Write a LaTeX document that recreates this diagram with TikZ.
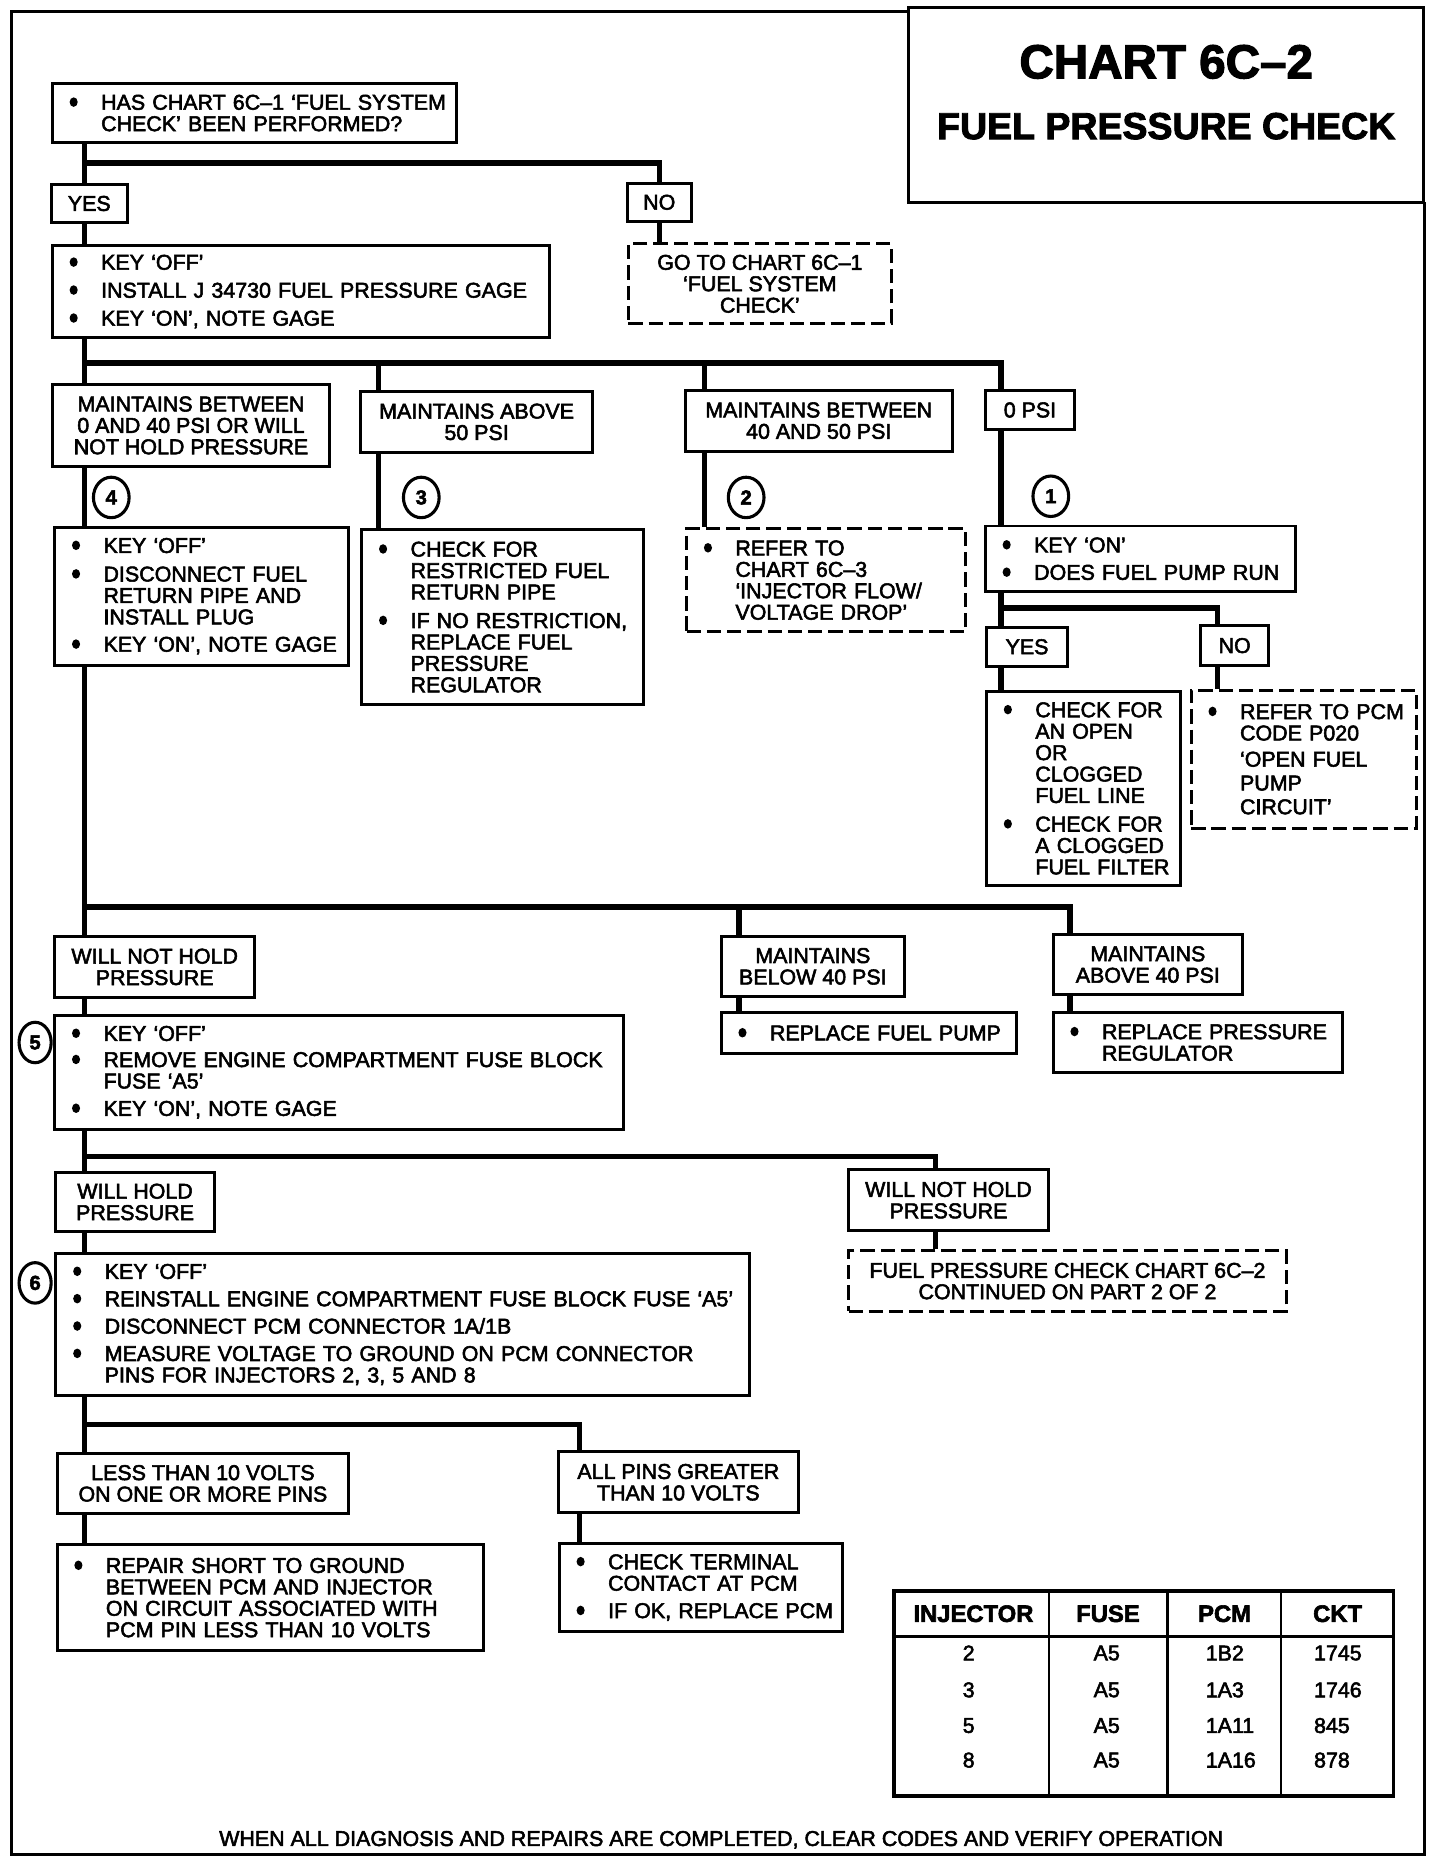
\documentclass[tikz,border=0pt]{standalone}
\usepackage{fontspec}
\setmainfont{Liberation Sans}[FakeBold=2.5]
\usetikzlibrary{backgrounds,shapes.geometric}
\newcommand\bul{\hspace{1.5pt}\tikz[x=1cm,y=1cm,baseline={(0,-6.4pt)}]\fill[black] (0,0) circle[x radius=3.4pt, y radius=4pt];}
\newcommand\bi[1]{\makebox[28pt][l]{\bul}\mbox{#1}}
\newcommand\cl[1]{\hspace*{28pt}\mbox{#1}}
\newcommand\bx[7]{%
 \pgfmathsetmacro\bxw{#5-#3}%
 \pgfmathsetmacro\bxh{#6-#4}%
 \pgfmathsetmacro\bxx{(#3+#5)/2}%
 \pgfmathsetmacro\bxy{(#4+#6)/2}%
 \node[#2, minimum width=\bxw pt, minimum height=\bxh pt] (#1) at (\bxx,\bxy) {#7};}
\newcommand\bl[7]{%
 \pgfmathsetmacro\bxw{#5-#3}%
 \pgfmathsetmacro\bxh{#6-#4}%
 \pgfmathsetmacro\bxt{#5-#3-26}%
 \pgfmathsetmacro\bxx{(#3+#5)/2}%
 \pgfmathsetmacro\bxy{(#4+#6)/2}%
 \node[lst, #2, text width=\bxt pt, minimum width=\bxw pt, minimum height=\bxh pt] (#1) at (\bxx,\bxy) {#7};}
\tikzset{
 base/.style={draw, line width=2.5pt, fill=white, font=\fontsize{18}{18}\selectfont, inner sep=0pt},
 lab/.style={base, align=center},
 lst/.style={base, align=left, inner xsep=13pt},
 dbox/.style={dash pattern=on 12pt off 5pt},
 conn/.style={line width=4.5pt, line join=miter},
 num/.style={ellipse, draw, line width=2.6pt, fill=white, minimum width=30pt, minimum height=34pt, inner sep=0pt, font=\bfseries\fontsize{17}{17}\selectfont},
 frame/.style={line width=2.5pt},
 tbox/.style={draw, line width=2.5pt, inner sep=0pt},
 tblbox/.style={draw, line width=3pt, inner sep=0pt},
 hdr/.style={font=\bfseries\fontsize{20}{20}\selectfont, inner sep=0pt},
 cell/.style={font=\fontsize{18}{18}\selectfont, inner sep=0pt},
}
\begin{document}
\begin{tikzpicture}[x=1pt, y=-1pt]
\useasboundingbox (0,0) rectangle (1210,1568);
% frame and title
\draw[frame] (763,10) -- (10,10) -- (10,1558) -- (1197,1558) -- (1197,170);
\bx{titlebox}{tbox}{763}{6}{1196}{170}{}
\node[font=\bfseries\fontsize{40}{40}\selectfont, inner sep=0pt] (tt1) at (980,52) {CHART 6C--2};
\node[font=\bfseries\fontsize{31.5}{31.5}\selectfont, inner sep=0pt] (tt2) at (980,106) {FUEL PRESSURE CHECK};
% coordinates
\coordinate (X1) at (71,0);
\coordinate (X2) at (318,0);
\coordinate (X3) at (592,0);
\coordinate (X4) at (841,0);
\coordinate (X5) at (1023,0);
\coordinate (X6) at (621,0);
\coordinate (X7) at (899,0);
\coordinate (X8) at (786,0);
\coordinate (X9) at (487,0);
\coordinate (XN) at (554,0);
\coordinate (J1) at (71,137);
\coordinate (J2) at (71,305);
\coordinate (J3) at (841,511);
\coordinate (J4) at (71,762);
\coordinate (J5) at (71,972);
\coordinate (J6) at (71,1197);
% boxes
\bl{b1}{}{44}{70}{384}{120}{\bi{HAS CHART 6C--1 `FUEL SYSTEM}\\\cl{CHECK' BEEN PERFORMED?}}
\bx{yes}{lab}{43}{155}{107}{187}{YES}
\bx{no}{lab}{527}{154}{581}{186}{NO}
\bx{goto}{lab,dbox}{528}{205}{749}{272}{GO TO CHART 6C--1\\`FUEL SYSTEM\\CHECK'}
\bl{b2}{}{44}{206}{462}{284}{\bi{KEY `OFF'}\\[5.5pt]\bi{INSTALL J 34730 FUEL PRESSURE GAGE}\\[5.5pt]\bi{KEY `ON', NOTE GAGE}}
\bx{m1}{lab}{44}{323}{277}{392}{MAINTAINS BETWEEN\\0 AND 40 PSI OR WILL\\NOT HOLD PRESSURE}
\bx{m2}{lab}{303}{329}{498}{380}{MAINTAINS ABOVE\\50 PSI}
\bx{m3}{lab}{576}{328}{800}{379}{MAINTAINS BETWEEN\\40 AND 50 PSI}
\bx{m4}{lab}{828}{328}{903}{361}{0 PSI}
\node[num] (c4) at (93.5,418) {4};
\node[num] (c3) at (354,418) {3};
\node[num] (c2) at (627,418) {2};
\node[num] (c1) at (883,417) {1};
\bl{s4}{}{46}{443}{293}{559}{\bi{KEY `OFF'}\\[6pt]\bi{DISCONNECT FUEL}\\\cl{RETURN PIPE AND}\\\cl{INSTALL PLUG}\\[5pt]\bi{KEY `ON', NOTE GAGE}}
\bl{s3}{}{304}{445}{541}{592}{\bi{CHECK FOR}\\\cl{RESTRICTED FUEL}\\\cl{RETURN PIPE}\\[6pt]\bi{IF NO RESTRICTION,}\\\cl{REPLACE FUEL}\\\cl{PRESSURE}\\\cl{REGULATOR}}
\bl{s2}{dbox}{577}{444}{811}{531}{\bi{REFER TO}\\\cl{CHART 6C--3}\\\cl{`INJECTOR FLOW/}\\\cl{VOLTAGE DROP'}}
\bl{s1}{}{828}{442}{1089}{497}{\bi{KEY `ON'}\\[5pt]\bi{DOES FUEL PUMP RUN}}
\bx{yes2}{lab}{829}{527}{897}{560}{YES}
\bx{no2}{lab}{1009}{526}{1066}{559}{NO}
\bl{s5a}{}{829}{581}{992}{744}{\bi{CHECK FOR}\\\cl{AN OPEN}\\\cl{OR}\\\cl{CLOGGED}\\\cl{FUEL LINE}\\[6pt]\bi{CHECK FOR}\\\cl{A CLOGGED}\\\cl{FUEL FILTER}}
\bl{s5b}{dbox}{1001}{580}{1190}{696}{\bi{REFER TO PCM}\\\cl{CODE P020}\\[4pt]\cl{`OPEN FUEL}\\[2pt]\cl{PUMP}\\[2pt]\cl{CIRCUIT'}}
\bx{r1}{lab}{46}{787}{214}{838}{WILL NOT HOLD\\PRESSURE}
\bx{r2}{lab}{606}{787}{760}{837}{MAINTAINS\\BELOW 40 PSI}
\bx{r3}{lab}{885}{785}{1044}{836}{MAINTAINS\\ABOVE 40 PSI}
\bl{q1}{}{46}{853}{524}{949}{\bi{KEY `OFF'}\\[4pt]\bi{REMOVE ENGINE COMPARTMENT FUSE BLOCK}\\\cl{FUSE `A5'}\\[5pt]\bi{KEY `ON', NOTE GAGE}}
\bl{q2}{}{606}{851}{854}{885}{\bi{REPLACE FUEL PUMP}}
\bl{q3}{}{885}{851}{1128}{901}{\bi{REPLACE PRESSURE}\\\cl{REGULATOR}}
\node[num, minimum width=27pt] (c5) at (29.5,876) {5};
\bx{h1}{lab}{47}{985}{180}{1035}{WILL HOLD\\PRESSURE}
\bx{h2}{lab}{713}{983}{881}{1034}{WILL NOT HOLD\\PRESSURE}
\bx{p2}{lab,dbox}{713}{1051}{1081}{1102}{FUEL PRESSURE CHECK CHART 6C--2\\CONTINUED ON PART 2 OF 2}
\bl{p1}{}{47}{1053}{630}{1173}{\bi{KEY `OFF'}\\[5pt]\bi{REINSTALL ENGINE COMPARTMENT FUSE BLOCK FUSE `A5'}\\[5pt]\bi{DISCONNECT PCM CONNECTOR 1A/1B}\\[5pt]\bi{MEASURE VOLTAGE TO GROUND ON PCM CONNECTOR}\\\cl{PINS FOR INJECTORS 2, 3, 5 AND 8}}
\node[num, minimum width=27pt] (c6) at (29.5,1078) {6};
\bx{v1}{lab}{48}{1221}{293}{1272}{LESS THAN 10 VOLTS\\ON ONE OR MORE PINS}
\bx{v2}{lab}{469}{1220}{671}{1271}{ALL PINS GREATER\\THAN 10 VOLTS}
\bl{w1}{}{48}{1298}{406}{1387}{\bi{REPAIR SHORT TO GROUND}\\\cl{BETWEEN PCM AND INJECTOR}\\\cl{ON CIRCUIT ASSOCIATED WITH}\\\cl{PCM PIN LESS THAN 10 VOLTS}}
\bl{w2}{}{470}{1297}{708}{1371}{\bi{CHECK TERMINAL}\\\cl{CONTACT AT PCM}\\[5pt]\bi{IF OK, REPLACE PCM}}
% table
\bx{tbl}{tblbox}{751}{1337}{1171}{1509}{}
\coordinate (TH) at (0,1375.5);
\coordinate (C1) at (881.5,0);
\coordinate (C2) at (981,0);
\coordinate (C3) at (1076.5,0);
\draw[line width=2.5pt] (tbl.west |- TH) -- (tbl.east |- TH);
\draw[line width=2pt] (tbl.north -| C1) -- (tbl.south -| C1);
\draw[line width=2pt] (tbl.north -| C2) -- (tbl.south -| C2);
\draw[line width=2pt] (tbl.north -| C3) -- (tbl.south -| C3);
\node[hdr] (hinj) at (818,1356) {INJECTOR};
\node[hdr] (hfuse) at (931,1356) {FUSE};
\node[hdr] (hpcm) at (1029,1356) {PCM};
\node[hdr] (hckt) at (1124,1356) {CKT};
\node[cell] (d11) at (814,1389) {2};
\node[cell] (d21) at (814,1420) {3};
\node[cell] (d31) at (814,1450) {5};
\node[cell] (d41) at (814,1479) {8};
\node[cell] (d12) at (930,1389) {A5};
\node[cell] (d22) at (930,1420) {A5};
\node[cell] (d32) at (930,1450) {A5};
\node[cell] (d42) at (930,1479) {A5};
\node[cell, anchor=west] (d13) at (1013,1389) {1B2};
\node[cell, anchor=west] (d23) at (1013,1420) {1A3};
\node[cell, anchor=west] (d33) at (1013,1450) {1A11};
\node[cell, anchor=west] (d43) at (1013,1479) {1A16};
\node[cell, anchor=west] (d14) at (1104,1389) {1745};
\node[cell, anchor=west] (d24) at (1104,1420) {1746};
\node[cell, anchor=west] (d34) at (1104,1450) {845};
\node[cell, anchor=west] (d44) at (1104,1479) {878};
\node[cell] (foot) at (606,1546) {WHEN ALL DIAGNOSIS AND REPAIRS ARE COMPLETED, CLEAR CODES AND VERIFY OPERATION};
% connectors
\begin{scope}[on background layer]
\draw[conn] (b1.south -| X1) -- (yes.north -| X1);
\draw[conn] (J1) -| (no.north -| XN);
\draw[conn] (no.south -| XN) -- (goto.north -| XN);
\draw[conn] (yes.south -| X1) -- (b2.north -| X1);
\draw[conn] (b2.south -| X1) -- (m1.north -| X1);
\draw[conn] (J2) -| (m4.north -| X4);
\draw[conn] (J2 -| X2) -- (m2.north -| X2);
\draw[conn] (J2 -| X3) -- (m3.north -| X3);
\draw[conn] (m1.south -| X1) -- (s4.north -| X1);
\draw[conn] (m2.south -| X2) -- (s3.north -| X2);
\draw[conn] (m3.south -| X3) -- (s2.north -| X3);
\draw[conn] (m4.south -| X4) -- (s1.north -| X4);
\draw[conn] (s1.south -| X4) -- (yes2.north -| X4);
\draw[conn] (J3) -| (no2.north -| X5);
\draw[conn] (yes2.south -| X4) -- (s5a.north -| X4);
\draw[conn] (no2.south -| X5) -- (s5b.north -| X5);
\draw[conn] (s4.south -| X1) -- (r1.north -| X1);
\draw[conn] (J4) -| (r3.north -| X7);
\draw[conn] (J4 -| X6) -- (r2.north -| X6);
\draw[conn] (r1.south -| X1) -- (q1.north -| X1);
\draw[conn] (r2.south -| X6) -- (q2.north -| X6);
\draw[conn] (r3.south -| X7) -- (q3.north -| X7);
\draw[conn] (q1.south -| X1) -- (h1.north -| X1);
\draw[conn] (J5) -| (h2.north -| X8);
\draw[conn] (h1.south -| X1) -- (p1.north -| X1);
\draw[conn] (h2.south -| X8) -- (p2.north -| X8);
\draw[conn] (p1.south -| X1) -- (v1.north -| X1);
\draw[conn] (J6) -| (v2.north -| X9);
\draw[conn] (v1.south -| X1) -- (w1.north -| X1);
\draw[conn] (v2.south -| X9) -- (w2.north -| X9);
\end{scope}
\end{tikzpicture}
\end{document}
